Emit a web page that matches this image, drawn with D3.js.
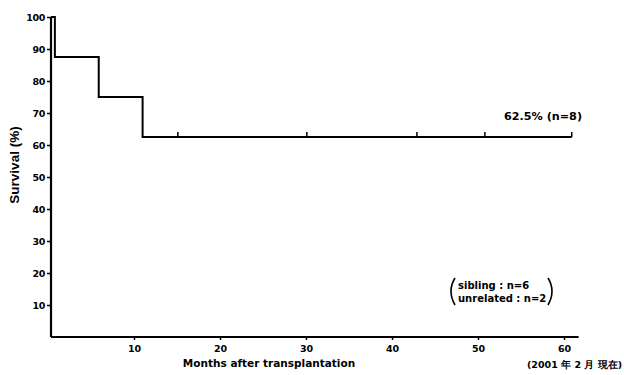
<!DOCTYPE html>
<html>
<head>
<meta charset="utf-8">
<script src="https://cdn.jsdelivr.net/npm/d3@7"></script>
<style>
  body { margin: 0; background: #fff; }
  text { font-family: "DejaVu Sans", "Liberation Sans", sans-serif; font-weight: bold; fill: #000; }
</style>
</head>
<body>
<script>
const w = 624;
const h = 375;

// Kaplan-Meier steps: month of event, survival after it (%)
const stepMonths = [0.35, 0.8, 5.9, 11.0, 60.9];
const stepSurvival = [100, 87.5, 75, 62.5, 62.5];
// censored patients (months)
const censorMonths = [15.1, 30.1, 42.9, 50.8, 60.9];
const xTicks = [10, 20, 30, 40, 50, 60];
const yTicks = [10, 20, 30, 40, 50, 60, 70, 80, 90, 100];

const svg = d3.select("body").append("svg").attr("width", w).attr("height", h);

const xScale = d3.scaleLinear().domain([0, 60]).range([48, 564]);
const yScale = d3.scaleLinear().domain([0, 100]).range([337, 17]);

// axes
const xAxis = d3.axisBottom(xScale).tickValues(xTicks).tickSize(3).tickPadding(5);
const yAxis = d3.axisLeft(yScale).tickValues(yTicks).tickSize(4).tickPadding(2);

const gx = svg.append("g").attr("transform", "translate(0,337)").call(xAxis);
gx.select(".domain").attr("d", "M" + xScale(0.35) + ",0H" + xScale(61.7)).attr("stroke-width", 2);
gx.selectAll(".tick line").attr("stroke-width", 1.5);
gx.selectAll(".tick text").attr("font-size", 9.5).attr("font-family", "DejaVu Sans");

const gy = svg.append("g").attr("transform", "translate(" + xScale(0.35) + ",0)").call(yAxis);
gy.select(".domain").attr("d", "M0," + yScale(100) + "V" + yScale(0)).attr("stroke-width", 2.2);
gy.selectAll(".tick line").attr("stroke-width", 1.5);
gy.selectAll(".tick text").attr("font-size", 9.5).attr("font-family", "DejaVu Sans").attr("letter-spacing", -0.4);

// survival curve
const pts = stepMonths.map((m, i) => [m, stepSurvival[i]]);
const line = d3.line()
  .x((d) => xScale(d[0]))
  .y((d) => yScale(d[1]))
  .curve(d3.curveStepAfter);
svg.append("path")
  .datum(pts)
  .attr("d", line)
  .attr("fill", "none")
  .attr("stroke", "#000")
  .attr("stroke-width", 2);

// censor marks
svg.selectAll("line.censor")
  .data(censorMonths)
  .enter()
  .append("line")
  .attr("class", "censor")
  .attr("x1", (d) => xScale(d))
  .attr("x2", (d) => xScale(d))
  .attr("y1", yScale(62.5))
  .attr("y2", yScale(62.5) - 5)
  .attr("stroke", "#000")
  .attr("stroke-width", 1.5);

// labels
svg.append("text")
  .attr("transform", "translate(19,165) rotate(-90)")
  .attr("text-anchor", "middle")
  .attr("font-size", 13.5)
  .style("font-family", "Liberation Sans")
  .text("Survival (%)");

svg.append("text")
  .attr("x", 269)
  .attr("y", 367)
  .attr("text-anchor", "middle")
  .attr("font-size", 10.5)
  .text("Months after transplantation");

svg.append("text")
  .attr("x", 622)
  .attr("y", 368)
  .attr("text-anchor", "end")
  .attr("font-size", 9.5)
  .text("(2001 年 2 月 現在)");

svg.append("text")
  .attr("x", 582)
  .attr("y", 120)
  .attr("text-anchor", "end")
  .attr("font-size", 11.2)
  .text("62.5%  (n=8)");

svg.append("text").attr("x", 458).attr("y", 289).attr("font-size", 10).text("sibling : n=6");
svg.append("text").attr("x", 458).attr("y", 302).attr("font-size", 10).text("unrelated : n=2");
svg.append("path")
  .attr("d", "M455,278 Q447,291 455,305")
  .attr("fill", "none").attr("stroke", "#000").attr("stroke-width", 1.6);
svg.append("path")
  .attr("d", "M548,278 Q556,291 548,305")
  .attr("fill", "none").attr("stroke", "#000").attr("stroke-width", 1.6);
</script>
</body>
</html>
